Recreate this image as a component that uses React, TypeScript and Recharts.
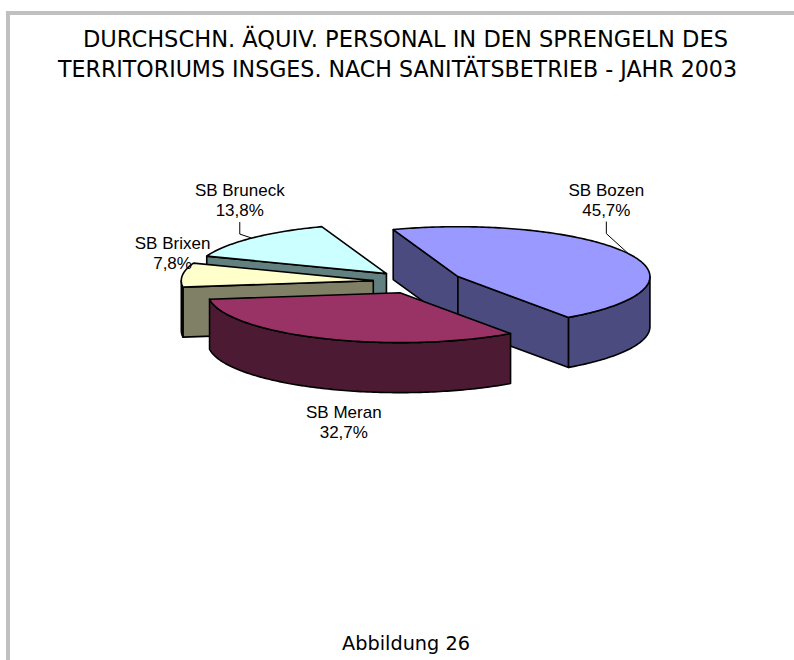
import React from 'react';
import { PieChart, Pie } from 'recharts';

const names = ['SB Bozen', 'SB Meran', 'SB Brixen', 'SB Bruneck'];
const shares = [45.7, 32.7, 7.8, 13.8];

const topColors = ['#9999ff', '#993366', '#ffffcc', '#ccffff'];
const sideColors = ['#4b4b80', '#4d1a33', '#808066', '#628080'];

// slices painted from back to front
const drawOrder = ['SB Bruneck', 'SB Brixen', 'SB Bozen', 'SB Meran'];

// label placement relative to the rim point at the slice middle
const labelNudge: Record<string, [number, number]> = {
  'SB Bozen': [-22, -58],
  'SB Meran': [21, 80],
  'SB Brixen': [-10, -26],
  'SB Bruneck': [-12, -42],
};
const withLeader = ['SB Bozen', 'SB Bruneck'];

const data = names.map((name, i) => ({ name, value: shares[i] }));

const TILT = 0.26;
const DEPTH = 50;
const EXPLODE = 45;
const RAD = Math.PI / 180;
const START = 109.7;

const pt = (cx: number, cy: number, r: number, a: number): [number, number] => [
  cx + r * Math.cos(a * RAD),
  cy - r * TILT * Math.sin(a * RAD),
];

const fmt = (p: [number, number]) => `${p[0].toFixed(2)},${p[1].toFixed(2)}`;

function Slice3D(props: any) {
  const { cx, cy, outerRadius, startAngle, endAngle, name } = props;
  const i = names.indexOf(name);
  const mid = (startAngle + endAngle) / 2;
  const [ox, oy] = pt(cx, cy, EXPLODE, mid);
  const rim = (a: number) => pt(ox, oy, outerRadius, a);
  const down = (p: [number, number]): [number, number] => [p[0], p[1] + DEPTH];
  const hi = Math.max(startAngle, endAngle);
  const lo = Math.min(startAngle, endAngle);

  const list: number[] = [];
  for (let a = hi; a > lo; a -= 1) list.push(a);
  for (let k = Math.ceil(lo / 180); k * 180 <= hi; k++) list.push(k * 180);
  list.push(lo);
  const angles = Array.from(new Set(list.map((a) => +a.toFixed(4)))).sort((a, b) => b - a);

  const top = `M${fmt([ox, oy])} L${angles.map((a) => fmt(rim(a))).join(' L')} Z`;

  const runs: number[][] = [];
  let cur: number[] = [];
  for (let j = 0; j < angles.length - 1; j++) {
    const m = (angles[j] + angles[j + 1]) / 2;
    if (Math.sin(m * RAD) < 0) {
      if (cur.length === 0) cur.push(angles[j]);
      cur.push(angles[j + 1]);
    } else if (cur.length) {
      runs.push(cur);
      cur = [];
    }
  }
  if (cur.length) runs.push(cur);

  const walls: string[] = [];
  const c: [number, number] = [ox, oy];
  if (Math.cos(startAngle * RAD) < 0) {
    const p = rim(startAngle);
    walls.push(`M${fmt(c)} L${fmt(p)} L${fmt(down(p))} L${fmt(down(c))} Z`);
  }
  if (Math.cos(endAngle * RAD) > 0) {
    const p = rim(endAngle);
    walls.push(`M${fmt(c)} L${fmt(p)} L${fmt(down(p))} L${fmt(down(c))} Z`);
  }
  runs.forEach((run) => {
    const upper = run.map((a) => fmt(rim(a)));
    const lower = run.slice().reverse().map((a) => fmt(down(rim(a))));
    walls.push(`M${upper.join(' L')} L${lower.join(' L')} Z`);
  });

  return (
    <g>
      {walls.map((d, k) => (
        <path key={k} d={d} fill={sideColors[i]} stroke="#000" strokeWidth={1.6} strokeLinejoin="round" />
      ))}
      <path d={top} fill={topColors[i]} stroke="#000" strokeWidth={1.6} strokeLinejoin="round" />
    </g>
  );
}

function renderLabel(props: any) {
  const { cx, cy, outerRadius, startAngle, endAngle, name, percent } = props;
  const mid = (startAngle + endAngle) / 2;
  const [ox, oy] = pt(cx, cy, EXPLODE, mid);
  const [rx, ry] = pt(ox, oy, outerRadius, mid);
  const [dx, dy] = labelNudge[name] || [0, 0];
  const lx = rx + dx;
  const ly = ry + dy;
  const pct = `${(percent * 100).toFixed(1).replace('.', ',')}%`;
  return (
    <g key={name}>
      {withLeader.includes(name) && (
        <polyline
          points={`${lx},${ly + 26} ${lx},${ly + 38} ${rx},${ry}`}
          fill="none"
          stroke="#000"
          strokeWidth={1}
        />
      )}
      <text x={lx} y={ly} textAnchor="middle" fontFamily="'Liberation Sans', Arial, sans-serif" fontSize={17} fill="#000">
        <tspan x={lx}>{name}</tspan>
        <tspan x={lx} dy={20}>{pct}</tspan>
      </text>
    </g>
  );
}

export default function App() {
  return (
    <div style={{ position: 'absolute', left: 0, top: 0, width: 794, height: 660, overflow: 'hidden', background: '#fff' }}>
      <div
        style={{
          position: 'absolute',
          left: 6,
          top: 11,
          width: 800,
          height: 700,
          borderLeft: '4px solid #c0c0c0',
          borderTop: '4px solid #c0c0c0',
        }}
      />
      <svg width={794} height={660} style={{ position: 'absolute', left: 0, top: 0 }}>
        <g fontFamily="'DejaVu Sans', sans-serif" fill="#000">
          <text x={83} y={47} fontSize={23} textLength={645} lengthAdjust="spacingAndGlyphs">
            DURCHSCHN. ÄQUIV. PERSONAL IN DEN SPRENGELN DES
          </text>
          <text x={58} y={77} fontSize={23} textLength={679} lengthAdjust="spacingAndGlyphs">
            TERRITORIUMS INSGES. NACH SANITÄTSBETRIEB - JAHR 2003
          </text>
          <text x={342} y={650} fontSize={20} textLength={128} lengthAdjust="spacingAndGlyphs">
            Abbildung 26
          </text>
        </g>
      </svg>
      <div style={{ position: 'absolute', left: 0, top: 0 }}>
        <PieChart width={794} height={660} margin={{ top: 0, right: 0, bottom: 0, left: 0 }}>
          {drawOrder.map((target, k) => (
            <Pie
              key={target}
              data={data}
              dataKey="value"
              nameKey="name"
              cx={418}
              cy={282}
              innerRadius={0}
              outerRadius={192}
              startAngle={START}
              endAngle={START - 360}
              isAnimationActive={false}
              shape={(p: any) => (p.name === target ? <Slice3D {...p} /> : <g />)}
              label={k === drawOrder.length - 1 ? renderLabel : false}
              labelLine={false}
            />
          ))}
        </PieChart>
      </div>
    </div>
  );
}
